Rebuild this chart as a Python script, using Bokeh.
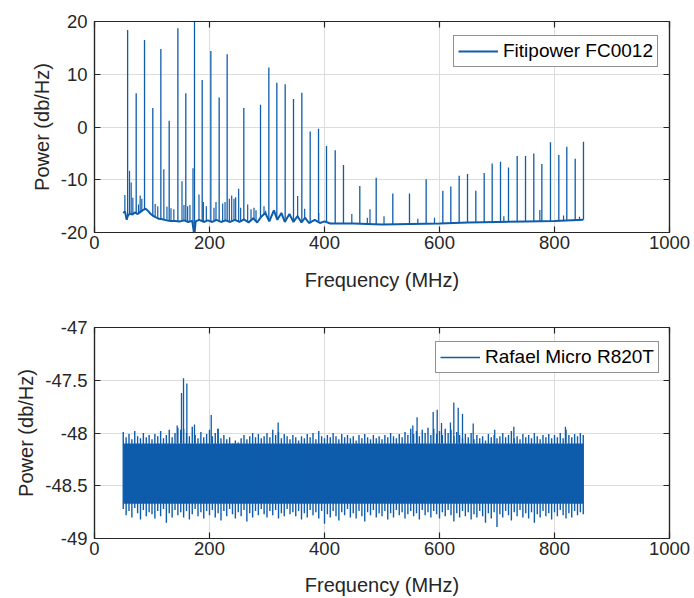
import numpy as np
from bokeh.plotting import figure
from bokeh.layouts import column
from bokeh.models import FixedTicker, LinearAxis, Legend, LegendItem, CustomJSTickFormatter
from bokeh.embed import file_html
from bokeh.resources import INLINE

# ---------------- data ----------------
x_ticks = [0, 200, 400, 600, 800, 1000]
top_y_ticks = [-20, -10, 0, 10, 20]
bot_y_ticks = [-49, -48.5, -48, -47.5, -47]

# Fitipower FC0012: noise floor
floor_freq = [50, 53, 56, 58, 62, 66, 70, 75, 80, 85, 89, 93, 97, 101, 106, 112, 118, 125, 132, 140,
              148, 156, 163, 170, 173.5, 176, 182, 190, 197, 205, 212, 220, 228, 236, 244, 252, 260, 268,
              276, 283, 290, 297, 304, 312, 318, 325, 331, 339, 346, 353, 360, 366, 373, 383, 392, 400,
              410, 450, 500, 550, 600, 650, 700, 750, 800, 850]
floor_power = [-16.3, -16.0, -17.6, -16.8, -16.4, -16.6, -16.2, -16.5, -16.1, -15.7, -15.5, -15.9, -16.4,
               -16.8, -17.1, -17.4, -17.5, -17.7, -17.8, -17.8, -17.9, -17.7, -18.0, -17.8, -20.5, -17.9,
               -17.6, -18.0, -17.7, -18.0, -17.6, -18.0, -17.7, -18.0, -17.6, -18.0, -17.5, -18.1, -17.3,
               -18.1, -17.0, -16.3, -17.9, -15.8, -17.6, -16.3, -18.0, -16.5, -18.0, -16.9, -18.1, -17.2,
               -18.2, -17.6, -18.2, -17.9, -18.3, -18.3, -18.5, -18.4, -18.3, -18.1, -18.0, -17.9, -17.8,
               -17.6]

# Fitipower FC0012: strong harmonic spikes
major_freq = [57.6, 72.5, 87.0, 101.4, 115.4, 129.9, 145.0, 158.8, 173.9, 187.3, 202.3, 216.8, 230.7,
              259.7, 288.7, 303.2, 317.1, 331.6, 346.1, 360.6, 375.1, 389.6, 403.5, 418.6, 433.0, 461.4,
              489.9, 518.8, 547.8, 576.8, 605.8, 619.7, 634.2, 648.7, 663.2, 677.7, 691.6, 706.1, 720.0,
              735.1, 749.6, 764.0, 778.0, 793.0, 807.5, 821.4, 836.0, 850.4]
major_power = [18.4, 6.4, 16.5, 3.6, 14.8, 1.2, 18.7, 6.4, 20.5, 8.9, 14.4, 5.6, 13.8,
               3.6, 4.2, 11.3, 8.4, 8.1, 5.3, 6.5, -0.85, -0.34, -3.6, -4.4, -7.2, -11.2,
               -9.6, -12.6, -12.6, -9.9, -12.1, -11.3, -9.25, -8.9, -12.1, -8.7, -6.9, -6.6, -7.7,
               -5.5, -5.5, -5.0, -7.0, -2.9, -5.3, -3.75, -6.0, -2.8]

# Fitipower FC0012: small spurs
minor_freq = [52.8, 60.9, 63.8, 66.7, 76.5, 79.4, 82.3, 105.5, 110.0, 120.6, 126.0, 133.0, 138.0, 152.2,
              155.6, 162.0, 166.0, 171.3, 181.7, 189.3, 194.5, 207.8, 211.3, 222.9, 227.0, 234.5, 238.6,
              242.6, 245.5, 250.7, 254.2, 266.4, 272.2, 277.4, 280.9, 294.8, 297.7, 353.3, 365.5, 389.9,
              447.5, 474.5, 479.1, 503.5, 562.3, 591.3, 711.9, 774.5, 815.7, 843.5]
minor_power = [-12.9, -8.3, -10.5, -13.4, -14.7, -13.0, -13.6, -14.6, -15.0, -8.0, -15.1, -15.4, -15.6,
               -10.3, -14.8, -15.0, -14.8, -7.8, -12.8, -14.2, -15.0, -15.3, -14.2, -14.5, -14.2, -13.6,
               -13.0, -13.6, -13.3, -11.7, -15.3, -14.7, -15.6, -15.3, -15.8, -15.0, -15.9, -13.1, -15.5,
               -16.3, -16.5, -17.2, -15.6, -16.9, -17.4, -17.2, -16.9, -15.75, -16.8, -17.0]

# Rafael Micro R820T: dense noise band
band_freq = [50, 55, 60, 65, 70, 75, 80, 85, 90, 95, 100, 105, 110, 115, 120, 125, 130, 135, 140, 145,
             150, 155, 160, 165, 170, 175, 180, 185, 190, 195, 200, 205, 210, 215, 220, 225, 230, 235,
             240, 245, 250, 255, 260, 265, 270, 275, 280, 285, 290, 295, 300, 305, 310, 315, 320, 325,
             330, 335, 340, 345, 350, 355, 360, 365, 370, 375, 380, 385, 390, 395, 400, 405, 410, 415,
             420, 425, 430, 435, 440, 445, 450, 455, 460, 465, 470, 475, 480, 485, 490, 495, 500, 505,
             510, 515, 520, 525, 530, 535, 540, 545, 550, 555, 560, 565, 570, 575, 580, 585, 590, 595,
             600, 605, 610, 615, 620, 625, 630, 635, 640, 645, 650, 655, 660, 665, 670, 675, 680, 685,
             690, 695, 700, 705, 710, 715, 720, 725, 730, 735, 740, 745, 750, 755, 760, 765, 770, 775,
             780, 785, 790, 795, 800, 805, 810, 815, 820, 825, 830, 835, 840, 845, 850]
band_top = [-47.99, -48.04, -48.01, -48.06, -47.98, -48.03, -48.05, -48.00, -48.04, -48.02,
            -48.06, -48.01, -48.03, -47.98, -48.05, -48.02, -47.97, -48.04, -48.00, -47.95,
            -47.97, -47.96, -48.00, -48.03, -47.94, -48.02, -48.05, -47.99, -48.04, -48.01,
            -47.97, -48.03, -48.00, -47.96, -48.05, -48.02, -48.06, -48.04, -48.10, -48.07,
            -48.09, -48.05, -48.02, -48.06, -48.03, -48.00, -48.04, -48.01, -48.05, -48.03,
            -48.00, -48.04, -47.97, -48.02, -47.99, -48.05, -48.01, -48.03, -48.06, -48.02,
            -48.04, -48.07, -48.03, -48.05, -48.01, -48.04, -48.00, -48.06, -47.98, -48.03,
            -48.05, -48.02, -48.04, -48.00, -48.03, -48.06, -48.01, -48.04, -48.02, -48.05,
            -48.03, -48.07, -48.02, -48.05, -48.01, -48.04, -48.06, -48.02, -48.05, -48.03,
            -48.06, -48.02, -48.04, -48.00, -48.03, -48.05, -48.01, -48.04, -47.99, -48.02,
            -47.96, -48.01, -47.98, -48.03, -47.97, -48.00, -47.95, -48.02, -47.96, -48.01,
            -47.98, -48.02, -47.96, -48.00, -47.97, -48.03, -47.99, -48.02, -48.05, -48.01,
            -48.04, -48.00, -48.06, -48.02, -48.05, -48.03, -48.07, -48.01, -48.04, -48.02,
            -48.05, -48.03, -48.00, -48.04, -48.02, -47.98, -48.05, -48.03, -48.06, -48.01,
            -48.04, -48.02, -48.05, -48.00, -48.03, -48.06, -48.02, -48.04, -48.01, -48.05,
            -48.02, -48.04, -48.00, -48.05, -47.97, -48.02, -48.04, -48.01, -48.03, -48.00,
            -48.02]
band_bottom = [-48.72, -48.78, -48.74, -48.80, -48.71, -48.76, -48.82, -48.73, -48.79, -48.75,
               -48.77, -48.81, -48.74, -48.79, -48.72, -48.85, -48.76, -48.80, -48.73, -48.78,
               -48.75, -48.80, -48.74, -48.82, -48.77, -48.72, -48.79, -48.75, -48.81, -48.74,
               -48.78, -48.73, -48.80, -48.76, -48.83, -48.74, -48.79, -48.72, -48.77, -48.81,
               -48.75, -48.79, -48.73, -48.84, -48.76, -48.80, -48.74, -48.78, -48.72, -48.77,
               -48.80, -48.74, -48.78, -48.73, -48.81, -48.76, -48.79, -48.72, -48.77, -48.75,
               -48.79, -48.74, -48.82, -48.76, -48.80, -48.73, -48.78, -48.75, -48.81, -48.74,
               -48.86, -48.77, -48.80, -48.74, -48.79, -48.83, -48.75, -48.78, -48.72, -48.80,
               -48.76, -48.81, -48.74, -48.79, -48.84, -48.75, -48.78, -48.73, -48.80, -48.76,
               -48.79, -48.74, -48.82, -48.76, -48.80, -48.73, -48.78, -48.75, -48.81, -48.77,
               -48.74, -48.79, -48.76, -48.82, -48.73, -48.78, -48.75, -48.80, -48.74, -48.77,
               -48.81, -48.75, -48.79, -48.73, -48.78, -48.84, -48.76, -48.80, -48.74, -48.79,
               -48.75, -48.82, -48.77, -48.80, -48.74, -48.79, -48.85, -48.76, -48.81, -48.75,
               -48.89, -48.77, -48.80, -48.74, -48.78, -48.83, -48.75, -48.79, -48.73, -48.80,
               -48.76, -48.81, -48.75, -48.85, -48.77, -48.80, -48.74, -48.79, -48.76, -48.82,
               -48.75, -48.79, -48.73, -48.78, -48.81, -48.76, -48.80, -48.74, -48.78, -48.75,
               -48.77]
core_freq = [50, 850]
core_hi = [-48.10, -48.10]
core_lo = [-48.67, -48.67]
peak_freq = [143.8, 151.3, 154.8, 160.6, 173.9, 203.0, 214.5, 319.4, 553.6, 561.0, 589.0, 596.0,
             603.5, 619.0, 624.9, 632.5, 640.0, 658.6, 696.0, 729.3, 819.0]
peak_power = [-47.93, -47.62, -47.48, -47.53, -47.92, -47.83, -47.96, -47.90, -47.93, -47.85, -47.80,
              -47.78, -47.905, -47.90, -47.71, -47.76, -47.82, -47.91, -47.97, -47.94, -47.94]

# ---------------- styling ----------------
FONT = "Liberation Sans"
TXT = "#262626"
LINE = "#0e5cab"
GRID = "#dcdcdc"


def make_fig(height, yr, yticks, top_b, bot_b, xl_standoff):
    p = figure(width=694, height=height, x_range=(0, 1000), y_range=yr,
               output_backend="svg", toolbar_location=None,
               min_border_left=94, min_border_right=25, min_border_top=top_b, min_border_bottom=bot_b,
               background_fill_color="white", border_fill_color="white")
    p.outline_line_color = TXT
    p.outline_line_width = 1.2
    p.add_layout(LinearAxis(), "above")
    p.add_layout(LinearAxis(), "right")
    for ax in p.xaxis:
        ax.ticker = FixedTicker(ticks=x_ticks)
    for ax in p.yaxis:
        ax.ticker = FixedTicker(ticks=yticks)
        ax.formatter = CustomJSTickFormatter(code="return tick.toString();")
    for ax in list(p.xaxis) + list(p.yaxis):
        ax.major_tick_in = 6
        ax.major_tick_out = 0
        ax.minor_tick_line_color = None
        ax.axis_line_color = TXT
        ax.axis_line_width = 1.2
        ax.major_tick_line_color = TXT
        ax.major_tick_line_width = 1.2
        ax.major_label_text_font = FONT
        ax.major_label_text_font_size = "18.5px"
        ax.major_label_text_color = TXT
        ax.axis_label_text_font = FONT
        ax.axis_label_text_font_size = "20px"
        ax.axis_label_text_font_style = "normal"
        ax.axis_label_text_color = TXT
    # box axes (top / right): ticks only, no labels
    for ax in (p.above[0], p.right[0]):
        ax.major_label_text_font_size = "1px"
        ax.major_label_text_alpha = 0
        ax.major_label_standoff = 0
        ax.major_label_overrides = {t: " " for t in (x_ticks if ax in p.above else yticks)}
    p.below[0].axis_label = "Frequency (MHz)"
    p.below[0].major_label_standoff = 3
    p.below[0].axis_label_standoff = xl_standoff
    p.left[0].axis_label = "Power (db/Hz)"
    p.left[0].major_label_standoff = 7
    p.left[0].axis_label_standoff = 5
    p.xgrid.ticker = FixedTicker(ticks=x_ticks)
    p.ygrid.ticker = FixedTicker(ticks=yticks)
    p.grid.grid_line_color = GRID
    p.grid.grid_line_width = 1
    return p


def make_legend(label, r, loc):
    lg = Legend(items=[LegendItem(label=label, renderers=[r])], location=loc,
                border_line_color=TXT, border_line_width=1.2, background_fill_color="white",
                background_fill_alpha=1, padding=4, margin=0, spacing=0,
                glyph_width=40, glyph_height=20, label_height=20, label_standoff=5,
                label_text_font=FONT, label_text_font_size="19px", label_text_color="#000000")
    return lg


# ---------------- top: Fitipower FC0012 ----------------
p1 = make_fig(300, (-20, 20), top_y_ticks, 21, 68, 17)
floor_line = p1.line(floor_freq, floor_power, line_color=LINE, line_width=2.0)
major_base = np.interp(major_freq, floor_freq, floor_power)
minor_base = np.interp(minor_freq, floor_freq, floor_power)
p1.segment(x0=major_freq, y0=major_base, x1=major_freq, y1=major_power, line_color=LINE, line_width=1.3)
p1.segment(x0=minor_freq, y0=minor_base, x1=minor_freq, y1=minor_power, line_color=LINE, line_width=1.2)
p1.add_layout(make_legend("Fitipower FC0012", floor_line, (359, 165)))

# ---------------- bottom: Rafael Micro R820T ----------------
p2 = make_fig(298, (-49, -47), bot_y_ticks, 27, 60, 16)
p2.varea(x=core_freq, y1=core_lo, y2=core_hi, fill_color=LINE)
hairs = p2.segment(x0=band_freq, y0=band_bottom, x1=band_freq, y1=band_top, line_color=LINE, line_width=1.4)
p2.segment(x0=peak_freq, y0=core_hi[0], x1=peak_freq, y1=peak_power, line_color=LINE, line_width=1.3)
p2.add_layout(make_legend("Rafael Micro R820T", hairs, (341, 165)))

layout = column(p1, p2, spacing=0)
open("out.html", "w").write(file_html(layout, INLINE))
